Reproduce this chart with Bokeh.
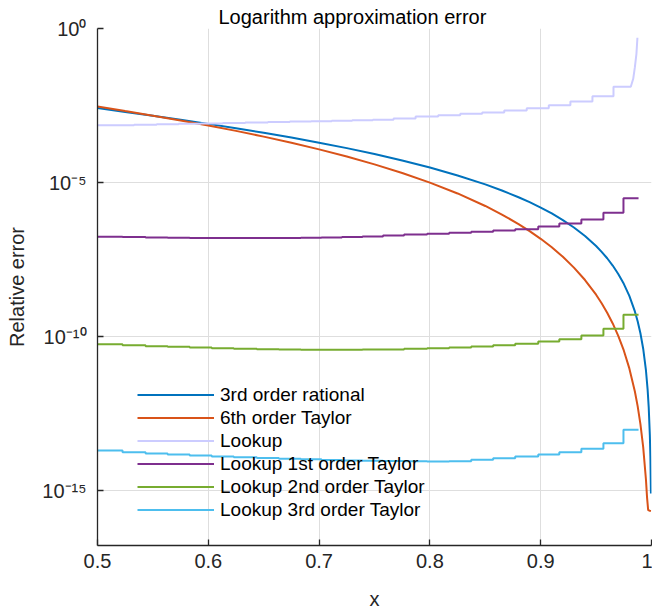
from bokeh.plotting import figure
from bokeh.models import Range1d, FixedTicker, Legend, LegendItem
from bokeh.embed import file_html
from bokeh.resources import INLINE

# ---------------- data ----------------
x_ticks = [0.5, 0.6, 0.7, 0.8, 0.9, 1.0]
x_tick_labels = ["0.5", "0.6", "0.7", "0.8", "0.9", "1"]
y_ticks = [1e-15, 1e-10, 1e-5, 1.0]
y_tick_labels = ["10\u207b\u00b9\u2075", "10\u207b\u00b9\u2070", "10\u207b\u2075", "10\u2070"]

series_names = ["3rd order rational", "6th order Taylor", "Lookup",
                "Lookup 1st order Taylor", "Lookup 2nd order Taylor",
                "Lookup 3rd order Taylor"]

# smooth curves
curve_x = [0.5, 0.525, 0.55, 0.575, 0.6, 0.625, 0.65, 0.675, 0.7, 0.725, 0.75,
           0.775, 0.8, 0.825, 0.85, 0.865, 0.88, 0.89, 0.9, 0.91, 0.92, 0.93,
           0.94, 0.95, 0.955, 0.96, 0.965, 0.97, 0.975, 0.98, 0.985, 0.9875,
           0.99, 0.9925, 0.995]
rational_err = [2.62e-3, 1.956e-3, 1.469e-3, 1.091e-3, 8.006e-4, 5.791e-4,
                4.121e-4, 2.876e-4, 1.963e-4, 1.305e-4, 8.395e-5, 5.196e-5,
                3.063e-5, 1.697e-5, 8.666e-6, 5.502e-6, 3.325e-6, 2.298e-6,
                1.536e-6, 9.868e-7, 6.032e-7, 3.463e-7, 1.831e-7, 8.647e-8,
                5.615e-8, 3.470e-8, 2.013e-8, 1.076e-8, 5.135e-9, 2.081e-9,
                6.521e-10, 3.129e-10, 1.275e-10, 4.015e-11, 7.891e-12]
rational_tail_x = [0.9965, 0.9975, 0.9985, 0.999, 0.9995]
rational_tail_err = [1.889e-12, 4.907e-13, 6.35e-14, 1.25e-14, 8.0e-16]

taylor6_err = [2.95e-3, 2.084e-3, 1.482e-3, 1.034e-3, 7.09e-4, 4.743e-4,
               3.083e-4, 1.950e-4, 1.190e-4, 6.969e-5, 3.884e-5, 2.039e-5,
               9.939e-6, 4.410e-6, 1.729e-6, 9.131e-7, 4.475e-7, 2.644e-7,
               1.486e-7, 7.865e-8, 3.864e-8, 1.727e-8, 6.821e-9, 2.275e-9,
               1.207e-9, 5.941e-10, 2.661e-10, 1.053e-10, 3.521e-11, 9.212e-12,
               1.636e-12, 5.475e-13, 1.434e-13, 2.550e-14, 2.236e-15]
taylor6_tail_x = [0.996, 0.997, 0.9985, 0.9995]
taylor6_tail_err = [5.86e-16, 2.3e-16, 2.2e-16, 2.15e-16]

# plain lookup: step edges, step levels and the rising tail
lookup_edges = [0.5330, 0.5534, 0.5733, 0.5932, 0.6131, 0.6334, 0.6538, 0.6736,
                0.6928, 0.7114, 0.7299, 0.7485, 0.7672, 0.7871, 0.8075, 0.8274,
                0.8472, 0.8671, 0.8874, 0.9073, 0.9268, 0.9467, 0.9657]
lookup_err = [7.24e-4, 7.50e-4, 7.76e-4, 8.02e-4, 8.30e-4, 8.57e-4, 8.87e-4,
              9.18e-4, 9.48e-4, 9.82e-4, 1.01e-3, 1.05e-3, 1.09e-3, 1.20e-3,
              1.39e-3, 1.53e-3, 1.70e-3, 1.87e-3, 2.18e-3, 2.58e-3, 3.24e-3,
              4.27e-3, 6.34e-3, 1.28e-2]
lookup_tail_x = [0.9813, 0.9835, 0.9850, 0.9864, 0.9873]
lookup_tail_err = [1.28e-2, 2.33e-2, 5.55e-2, 0.151, 0.499]

# lookup + Taylor variants share the same step edges
taylor_lookup_edges = [0.5226, 0.5434, 0.5633, 0.5832, 0.6031, 0.6230, 0.6438,
                       0.6637, 0.6835, 0.7021, 0.7206, 0.7392, 0.7577, 0.7767,
                       0.7975, 0.8174, 0.8373, 0.8571, 0.8770, 0.8978, 0.9168,
                       0.9367, 0.9566, 0.9747]
taylor_lookup_end = 0.9883
lookup1_err = [1.73e-7, 1.69e-7, 1.64e-7, 1.61e-7, 1.59e-7, 1.58e-7, 1.58e-7,
               1.58e-7, 1.59e-7, 1.61e-7, 1.65e-7, 1.70e-7, 1.77e-7, 1.90e-7,
               2.05e-7, 2.16e-7, 2.33e-7, 2.51e-7, 2.77e-7, 3.05e-7, 3.72e-7,
               4.67e-7, 6.30e-7, 1.04e-6, 3.09e-6]
lookup2_err = [5.62e-11, 5.22e-11, 4.84e-11, 4.63e-11, 4.40e-11, 4.17e-11,
               3.99e-11, 3.87e-11, 3.78e-11, 3.72e-11, 3.70e-11, 3.70e-11,
               3.76e-11, 3.78e-11, 3.99e-11, 4.17e-11, 4.40e-11, 4.73e-11,
               5.22e-11, 5.79e-11, 6.89e-11, 8.17e-11, 1.08e-10, 1.78e-10,
               5.07e-10]
lookup3_err = [1.99e-14, 1.75e-14, 1.59e-14, 1.48e-14, 1.37e-14, 1.27e-14,
               1.20e-14, 1.14e-14, 1.08e-14, 1.03e-14, 9.86e-15, 9.48e-15,
               9.20e-15, 9.02e-15, 8.87e-15, 8.81e-15, 8.87e-15, 9.93e-15,
               1.12e-14, 1.27e-14, 1.48e-14, 1.75e-14, 2.26e-14, 3.44e-14,
               9.35e-14]

x_start = 0.5
y_limits = (1.64e-17, 1.0)

colors = ["#0072BD", "#D95319", "#CCCCFF", "#7E2F8E", "#77AC30", "#4DBEEE"]


def staircase(start, edges, levels, end):
    xs, ys = [start], [levels[0]]
    for e, a, b in zip(edges, levels[:-1], levels[1:]):
        xs += [e, e]
        ys += [a, b]
    xs.append(end)
    ys.append(levels[-1])
    return xs, ys


FONT = "Liberation Sans"
DARK = "#262626"

p = figure(width=652, height=612, x_range=Range1d(0.5, 1.0),
           y_range=Range1d(*y_limits), y_axis_type="log",
           output_backend="svg", toolbar_location=None,
           min_border_left=97, min_border_right=1, min_border_top=28,
           min_border_bottom=67, background_fill_color="white",
           border_fill_color="white", outline_line_color=None)

p.title.text = "Logarithm approximation error"
p.title.align = "left"
p.title.offset = 121
p.title.text_font = FONT
p.title.text_font_size = "20px"
p.title.text_font_style = "normal"
p.title.text_color = "#000000"
p.title.standoff = 2

renderers = []
lw = 2
r = p.line(curve_x + rational_tail_x, rational_err + rational_tail_err,
           line_color=colors[0], line_width=lw)
renderers.append(r)
r = p.line(curve_x + taylor6_tail_x, taylor6_err + taylor6_tail_err,
           line_color=colors[1], line_width=lw)
renderers.append(r)
lx, ly = staircase(x_start, lookup_edges, lookup_err, lookup_tail_x[0])
r = p.line(lx + lookup_tail_x[1:], ly + lookup_tail_err[1:],
           line_color=colors[2], line_width=lw)
renderers.append(r)
for c, lev in zip(colors[3:], [lookup1_err, lookup2_err, lookup3_err]):
    sx, sy = staircase(x_start, taylor_lookup_edges, lev, taylor_lookup_end)
    r = p.line(sx, sy, line_color=c, line_width=lw)
    renderers.append(r)

# axes
p.xaxis.ticker = FixedTicker(ticks=x_ticks)
p.xaxis.major_label_overrides = dict(zip(x_ticks, x_tick_labels))
p.yaxis.ticker = FixedTicker(ticks=y_ticks)
p.yaxis.major_label_overrides = dict(zip(y_ticks, y_tick_labels))
p.xgrid.ticker = FixedTicker(ticks=x_ticks)
p.ygrid.ticker = FixedTicker(ticks=y_ticks)

for ax in (p.xaxis[0], p.yaxis[0]):
    ax.axis_line_color = DARK
    ax.axis_line_width = 1.3
    ax.major_tick_line_color = DARK
    ax.major_tick_line_width = 1.3
    ax.major_tick_in = 6
    ax.major_tick_out = 0
    ax.minor_tick_line_color = None
    ax.major_label_text_font = FONT
    ax.major_label_text_font_size = "20px"
    ax.major_label_text_color = DARK
    ax.axis_label_text_font = FONT
    ax.axis_label_text_font_size = "20px"
    ax.axis_label_text_font_style = "normal"
    ax.axis_label_text_color = DARK

p.xaxis.axis_label = "x"
p.yaxis.axis_label = "Relative error"
p.xaxis.major_label_standoff = 8
p.xaxis.axis_label_standoff = 17
p.yaxis.major_label_standoff = 11
p.yaxis.axis_label_standoff = 11

for g in (p.xgrid[0], p.ygrid[0]):
    g.grid_line_color = "#dedede"
    g.grid_line_width = 1

legend = Legend(items=[LegendItem(label=n, renderers=[rr])
                       for n, rr in zip(series_names, renderers)],
                location=(40, 24))
legend.label_text_font = FONT
legend.label_text_font_size = "19px"
legend.label_text_color = "#000000"
legend.glyph_width = 77
legend.glyph_height = 23
legend.label_height = 23
legend.label_standoff = 6
legend.spacing = 0
legend.padding = 0
legend.margin = 0
legend.border_line_color = None
legend.background_fill_alpha = 0
p.add_layout(legend)

open("out.html", "w").write(file_html(p, INLINE))
